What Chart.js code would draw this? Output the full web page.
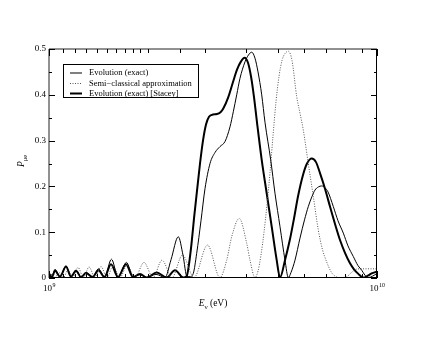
<!DOCTYPE html>
<html><head><meta charset="utf-8">
<script src="https://cdn.jsdelivr.net/npm/chart.js@4"></script>
<style>html,body{margin:0;padding:0;background:#fff}canvas{display:block}</style>
</head><body>
<canvas id="c" width="436" height="337"></canvas>
<script>
// Energies are given as log10(E / eV); probabilities P_mu-e.
const thinLogE = [9.0000,9.0091,9.0183,9.0335,9.0518,9.0671,9.0823,9.0976,9.1128,9.1326,9.1509,9.1692,9.1905,9.2104,9.2363,9.2561,9.2774,9.2988,9.3262,9.3537,9.3720,9.3942,9.4085,9.4207,9.4299,9.4399,9.4503,9.4634,9.4756,9.4909,9.5061,9.5213,9.5366,9.5518,9.5619,9.5723,9.5823,9.5976,9.6082,9.6180,9.6280,9.6372,9.6485,9.6585,9.6759,9.6890,9.7043,9.7195,9.7296,9.7378,9.7500,9.7652,9.7790,9.7905,9.8018,9.8110,9.8216,9.8314,9.8415,9.8506,9.8668,9.8811,9.8973,9.9116,9.9277,9.9421,9.9534,9.9634,9.9735,9.9863,10.0000];
const thinP = [0.010,0.003,0.019,0.003,0.026,0.003,0.017,0.002,0.012,0.002,0.020,0.002,0.041,0.002,0.034,0.002,0.007,0.001,0.008,0.001,0.040,0.090,0.050,0.003,0.003,0.010,0.054,0.125,0.195,0.250,0.274,0.287,0.298,0.330,0.363,0.400,0.436,0.472,0.487,0.493,0.480,0.450,0.400,0.340,0.258,0.185,0.112,0.039,0.001,0.012,0.039,0.087,0.127,0.156,0.178,0.192,0.199,0.201,0.197,0.188,0.156,0.125,0.098,0.070,0.047,0.027,0.017,0.006,0.001,0.004,0.010];

const semiLogE = [9.0000,9.0091,9.0183,9.0305,9.0442,9.0579,9.0732,9.0884,9.1052,9.1220,9.1402,9.1585,9.1768,9.1951,9.2165,9.2378,9.2622,9.2896,9.3171,9.3445,9.3750,9.4070,9.4421,9.4832,9.5213,9.5418,9.5570,9.5802,9.6027,9.6128,9.6280,9.6372,9.6463,9.6555,9.6646,9.6738,9.6829,9.6921,9.7012,9.7104,9.7195,9.7296,9.7409,9.7552,9.7652,9.7753,9.7905,9.8058,9.8210,9.8338,9.8466,9.8598,9.8720,9.8872,9.9055,9.9207,9.9329,9.9482,10.0000];
const semiP = [0.004,0.008,0.001,0.012,0.001,0.018,0.001,0.023,0.001,0.024,0.001,0.025,0.001,0.026,0.001,0.028,0.001,0.034,0.001,0.039,0.001,0.050,0.001,0.072,0.001,0.039,0.090,0.130,0.076,0.039,0.001,0.015,0.050,0.100,0.160,0.230,0.310,0.385,0.440,0.475,0.490,0.495,0.475,0.396,0.360,0.323,0.250,0.178,0.105,0.062,0.035,0.014,0.004,0.001,0.002,0.011,0.018,0.020,0.020];

const staceyLogE = [9.0000,9.0091,9.0183,9.0335,9.0518,9.0671,9.0823,9.0976,9.1128,9.1326,9.1509,9.1692,9.1890,9.2104,9.2348,9.2561,9.2774,9.2979,9.3284,9.3588,9.3841,9.4095,9.4198,9.4268,9.4345,9.4421,9.4512,9.4604,9.4695,9.4787,9.4878,9.5000,9.5122,9.5229,9.5314,9.5466,9.5610,9.5732,9.5854,9.5960,9.6067,9.6159,9.6250,9.6341,9.6485,9.6637,9.6790,9.6942,9.7043,9.7195,9.7348,9.7470,9.7591,9.7744,9.7866,9.8009,9.8140,9.8262,9.8415,9.8567,9.8720,9.8872,9.9024,9.9177,9.9299,9.9430,9.9582,9.9695,9.9838,10.0000];
const staceyP = [0.010,0.002,0.016,0.003,0.025,0.003,0.016,0.002,0.011,0.002,0.017,0.002,0.030,0.002,0.030,0.002,0.009,0.001,0.012,0.001,0.017,0.001,0.004,0.030,0.075,0.130,0.190,0.250,0.300,0.335,0.352,0.357,0.358,0.362,0.370,0.395,0.428,0.455,0.473,0.481,0.470,0.440,0.395,0.340,0.258,0.185,0.112,0.039,0.001,0.039,0.085,0.130,0.178,0.225,0.250,0.261,0.253,0.229,0.195,0.156,0.118,0.083,0.055,0.032,0.019,0.009,0.001,0.004,0.010,0.014];

const seriesLabels = ['Evolution (exact)', 'Semi\u2212classical approximation', 'Evolution (exact) [Stacey]'];
const yTickLabels = ['0','0.1','0.2','0.3','0.4','0.5'];
const xTickExponents = ['9','10'];
const xTitle = ['E', '\u03bd', ' (eV)'];
const yTitle = ['P', '\u03bce'];

function pts(le, p){ return le.map((l,i)=>({x: Math.pow(10,l), y: p[i]})); }

const FONT = '"Liberation Serif", "Times New Roman", serif';

const deco = {
  id: 'deco',
  afterDraw(chart){
    const ctx = chart.ctx, a = chart.chartArea, xs = chart.scales.x, ys = chart.scales.y;
    ctx.save();
    ctx.strokeStyle = '#000'; ctx.lineWidth = 1;
    const ln = (x1,y1,x2,y2)=>{ ctx.beginPath(); ctx.moveTo(x1,y1); ctx.lineTo(x2,y2); ctx.stroke(); };
    // frame
    ctx.strokeStyle = '#222';
    ln(a.left, a.top, a.left, a.bottom);
    ln(a.left, a.top, a.right, a.top);
    ctx.strokeStyle = '#000';
    ln(a.right-0.5, a.top, a.right-0.5, a.bottom);
    ln(a.left, a.bottom-0.5, a.right, a.bottom-0.5);
    // y ticks (inward, both sides)
    ys.ticks.forEach(t=>{
      const y = Math.round(ys.getPixelForValue(t.value)) + 0.5;
      const major = Math.abs(t.value*10 - Math.round(t.value*10)) < 1e-6;
      const len = major ? 6 : 3;
      ln(a.left, y, a.left+len, y);
      ln(a.right, y, a.right-len, y);
    });
    // x ticks (inward, top and bottom)
    let ei = 0;
    xs.ticks.forEach(t=>{
      const lv = Math.log10(t.value);
      const major = Math.abs(lv - Math.round(lv)) < 1e-9;
      const x = Math.round(xs.getPixelForValue(t.value)) + 0.5;
      const len = major ? 7 : 4;
      ln(x, a.bottom, x, a.bottom-len);
      ln(x, a.top, x, a.top+len);
      if (major) {
        const exp = xTickExponents[ei++] || String(Math.round(lv));
        ctx.fillStyle = '#000';
        ctx.font = '9px ' + FONT;
        const w1 = ctx.measureText('10').width;
        ctx.font = '6px ' + FONT;
        const w2 = ctx.measureText(exp).width;
        const x0 = xs.getPixelForValue(t.value) - (w1 + w2)/2;
        ctx.textBaseline = 'alphabetic'; ctx.textAlign = 'left';
        ctx.font = '9px ' + FONT;
        ctx.fillText('10', x0, a.bottom + 13);
        ctx.font = '6px ' + FONT;
        ctx.fillText(exp, x0 + w1 + 0.5, a.bottom + 8.5);
      }
    });
    // x title
    ctx.fillStyle = '#000';
    ctx.textBaseline = 'alphabetic'; ctx.textAlign = 'left';
    ctx.font = '9.5px ' + FONT;
    const wE = ctx.measureText(xTitle[0]).width;
    ctx.font = '7px ' + FONT;
    const wNu = ctx.measureText(xTitle[1]).width;
    ctx.font = '9.5px ' + FONT;
    const wR = ctx.measureText(xTitle[2]).width;
    const cx = (a.left + a.right)/2 - 0;
    let tx = cx - (wE + wNu + wR)/2;
    ctx.font = 'italic 9.5px ' + FONT;
    ctx.fillText(xTitle[0], tx, 306);
    ctx.font = '7px ' + FONT;
    ctx.fillText(xTitle[1], tx + wE, 308.5);
    ctx.font = '9.5px ' + FONT;
    ctx.fillText(xTitle[2], tx + wE + wNu, 306);
    // y title (rotated)
    ctx.save();
    ctx.translate(24, 161);
    ctx.rotate(-Math.PI/2);
    ctx.font = 'italic 9.5px ' + FONT;
    const wP = ctx.measureText(yTitle[0]).width;
    ctx.font = '6.5px ' + FONT;
    const wS = ctx.measureText(yTitle[1]).width;
    const sx = -(wP + wS)/2;
    ctx.font = 'italic 9.5px ' + FONT;
    ctx.fillText(yTitle[0], sx, 0);
    ctx.font = '6.5px ' + FONT;
    ctx.fillText(yTitle[1], sx + wP, 2.5);
    ctx.restore();
    // legend
    const bx = 63.5, by = 64.5, bw = 135, bh = 33;
    ctx.strokeStyle = '#000'; ctx.lineWidth = 1;
    ctx.strokeRect(bx, by, bw, bh);
    const rowsY = [73, 83.5, 93.5];
    chart.data.datasets.forEach((ds, i)=>{
      ctx.save();
      ctx.strokeStyle = ds.borderColor;
      ctx.lineWidth = ds.borderWidth;
      ctx.setLineDash(ds.borderDash || []);
      ctx.beginPath(); ctx.moveTo(70, rowsY[i]); ctx.lineTo(82, rowsY[i]); ctx.stroke();
      ctx.restore();
      ctx.fillStyle = '#000';
      ctx.font = '8.5px ' + FONT;
      ctx.textBaseline = 'middle'; ctx.textAlign = 'left';
      ctx.fillText(ds.label, 89, rowsY[i]);
    });
    ctx.restore();
  }
};

new Chart(document.getElementById('c'), {
  type: 'line',
  data: {
    datasets: [
      { label: seriesLabels[0], data: pts(thinLogE, thinP), borderColor: '#000', borderWidth: 1, pointRadius: 0, cubicInterpolationMode: 'monotone', fill: false },
      { label: seriesLabels[1], data: pts(semiLogE, semiP), borderColor: '#555', borderWidth: 1, borderDash: [1, 1.5], pointRadius: 0, cubicInterpolationMode: 'monotone', fill: false },
      { label: seriesLabels[2], data: pts(staceyLogE, staceyP), borderColor: '#000', borderWidth: 2, pointRadius: 0, cubicInterpolationMode: 'monotone', fill: false }
    ]
  },
  options: {
    responsive: false,
    animation: false,
    devicePixelRatio: 1,
    layout: { padding: { top: 49, right: 59, left: 0, bottom: 0 } },
    plugins: { legend: { display: false }, tooltip: { enabled: false } },
    scales: {
      x: {
        type: 'logarithmic', min: 1e9, max: 1e10,
        grid: { display: false, drawTicks: false },
        border: { display: false },
        ticks: { display: false },
        afterFit: s => { s.height = 59; }
      },
      y: {
        type: 'linear', min: 0, max: 0.5,
        grid: { display: false, drawTicks: false },
        border: { display: false },
        ticks: {
          stepSize: 0.05, padding: 3, color: '#000',
          font: { family: FONT, size: 9 },
          callback: v => {
            const k = Math.round(v*10);
            return Math.abs(v*10 - k) < 1e-6 ? (yTickLabels[k] ?? '') : '';
          }
        },
        afterFit: s => { s.width = 49; }
      }
    }
  },
  plugins: [deco]
});
</script>
</body></html>
